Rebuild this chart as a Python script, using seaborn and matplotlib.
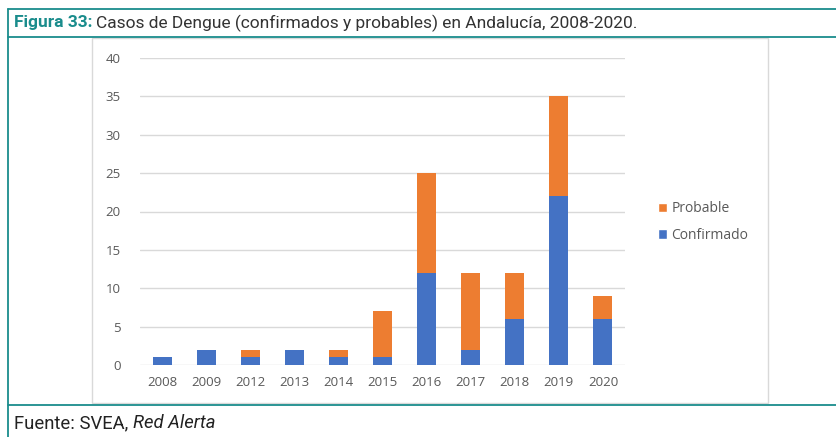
import matplotlib
matplotlib.use("Agg")
import matplotlib.pyplot as plt
from matplotlib.patches import Rectangle, Patch
from matplotlib.lines import Line2D
import seaborn as sns
import pandas as pd

years = ["2008", "2009", "2012", "2013", "2014", "2015", "2016", "2017", "2018", "2019", "2020"]
confirmado = [1, 2, 1, 2, 1, 1, 12, 2, 6, 22, 6]
probable = [0, 0, 1, 0, 1, 6, 13, 10, 6, 13, 3]
y_ticks = [0, 5, 10, 15, 20, 25, 30, 35, 40]

sns.set_theme(style="white")
plt.rcParams["font.family"] = ["Open Sans", "DejaVu Sans"]

df = pd.DataFrame({"year": years, "confirmado": confirmado,
                   "total": [c + p for c, p in zip(confirmado, probable)]})

fig = plt.figure(figsize=(8.36, 4.37), dpi=100)
W, H = 836, 437

def fx(x):
    return x / W

def fy(y):
    return 1 - y / H

teal = "#1A8C8C"
fig.add_artist(Line2D([fx(8), fx(8)], [fy(9), fy(437)], color=teal, lw=1.3))
fig.add_artist(Line2D([fx(8), fx(836)], [fy(9), fy(9)], color=teal, lw=1.3))
fig.add_artist(Line2D([fx(8), fx(836)], [fy(37), fy(37)], color=teal, lw=1.3))
fig.add_artist(Line2D([fx(8), fx(836)], [fy(405), fy(405)], color=teal, lw=1.3))
fig.add_artist(Rectangle((fx(92), fy(403)), fx(768 - 92), fy(37) - fy(403) - 0.002,
                         fill=False, edgecolor="#D9D9D9", lw=1.0))

renderer = fig.canvas.get_renderer()
tfam = ["Roboto", "DejaVu Sans"]


def chain(parts, x0, y, size):
    x = x0
    for txt, kw, gap in parts:
        t = fig.text(fx(x), fy(y), txt, fontsize=size, family=tfam, va="center", ha="left", **kw)
        bb = t.get_window_extent(renderer=renderer)
        x += bb.width + gap


def total_width(parts, size):
    w = 0
    for txt, kw, gap in parts:
        t = fig.text(0, 0, txt, fontsize=size, family=tfam, **kw)
        w += t.get_window_extent(renderer=renderer).width + gap
        t.remove()
    return w


title_parts = [("Figura 33:", dict(color=teal, fontweight="bold"), 4),
               ("Casos de Dengue (confirmados y probables) en Andalucía, 2008-2020.",
                dict(color="#333333"), 0)]
size = 12
w = total_width(title_parts, size)
size = size * 623 / w
chain(title_parts, 14, 23, size)

foot_parts = [("Fuente: SVEA,", dict(color="#222222"), 5),
              ("Red Alerta", dict(color="#222222", style="italic"), 0)]
fw = total_width(foot_parts, 12)
chain(foot_parts, 14, 423, 12 * 201 / fw)

ax = fig.add_axes([fx(140), fy(365), fx(625 - 140), fy(58) - fy(365)])
sns.barplot(data=df, x="year", y="total", color="#ED7D31", width=0.43,
            saturation=1, linewidth=0, ax=ax, zorder=3)
sns.barplot(data=df, x="year", y="confirmado", color="#4472C4", width=0.43,
            saturation=1, linewidth=0, ax=ax, zorder=4)
ax.set_ylim(0, 40)
ax.set_xlim(-0.5, 10.5)
ax.set_yticks(y_ticks)
ax.yaxis.grid(True, color="#D9D9D9", lw=1.0, zorder=0)
ax.set_axisbelow(True)
for s in ax.spines.values():
    s.set_visible(False)
ax.set_xlabel("")
ax.set_ylabel("")
ax.tick_params(axis="both", length=0, colors="#595959", labelsize=9.5)
ax.tick_params(axis="y", pad=14)
ax.tick_params(axis="x", pad=8)

handles = [Patch(facecolor="#ED7D31", label="Probable"),
           Patch(facecolor="#4472C4", label="Confirmado")]
fig.legend(handles=handles, loc="center left", bbox_to_anchor=(fx(645), fy(222)),
           frameon=False, fontsize=10, labelcolor="#595959", handlelength=0.7,
           handleheight=0.7, handletextpad=0.3, labelspacing=0.8)

fig.savefig("out.png", dpi=100)
